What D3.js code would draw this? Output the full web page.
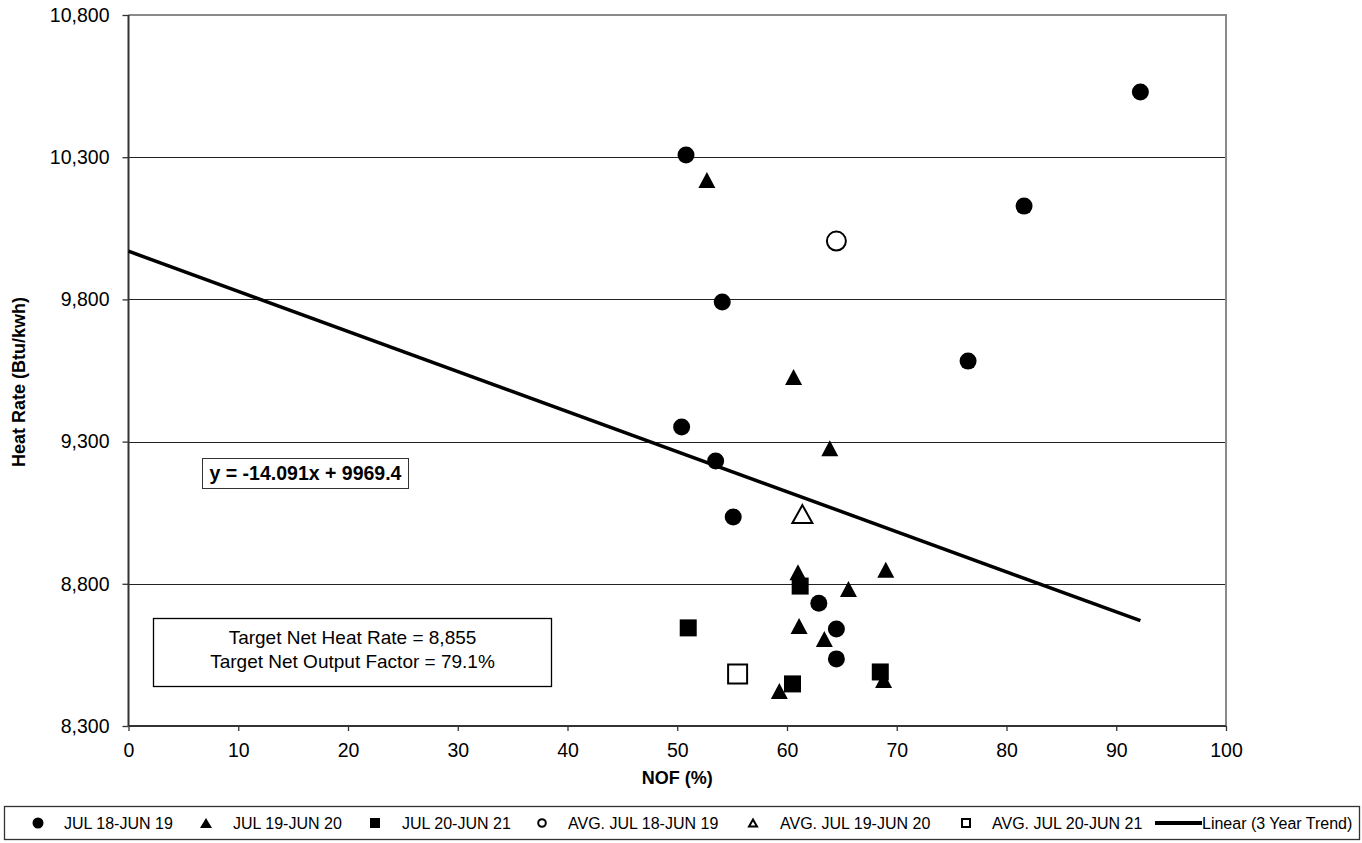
<!DOCTYPE html>
<html>
<head>
<meta charset="utf-8">
<script src="https://cdn.jsdelivr.net/npm/d3@7"></script>
<style>
body { margin:0; background:#fff; }
text { font-family: "Liberation Sans", Arial, sans-serif; fill:#000; }
</style>
</head>
<body>
<div id="chart"></div>
<script>
// chart size
var width = 1362;
var height = 843;
var plot = {left:128.5, right:1226, top:15, bottom:726};

// JUL 18-JUN 19 (circles)
var nof1 = [92.2, 50.8, 81.6, 54.1, 76.5, 50.4, 53.5, 55.1, 62.9, 64.5, 64.5];
var hr1  = [10529, 10308, 10128, 9791, 9583, 9351, 9232, 9035, 8732, 8641, 8536];
// JUL 19-JUN 20 (triangles)
var nof2 = [52.7, 60.6, 63.9, 61.0, 69.0, 65.6, 61.1, 63.4, 59.3, 68.8];
var hr2  = [10220, 9527, 9277, 8841, 8849, 8782, 8652, 8606, 8423, 8462];
// JUL 20-JUN 21 (squares)
var nof3 = [61.2, 51.0, 60.5, 68.5];
var hr3  = [8792, 8645, 8448, 8490];
// yearly averages (open markers)
var avgNof = [64.5, 61.4, 55.5];
var avgHr  = [10005, 9045, 8483];

// linear trend
var trendSlope = -14.091;
var trendIntercept = 9969.4;
var equationText = "y = -14.091x + 9969.4";
var targetLines = ["Target Net Heat Rate = 8,855", "Target Net Output Factor = 79.1%"];

var xTicks = [0, 10, 20, 30, 40, 50, 60, 70, 80, 90, 100];
var yTicks = [8300, 8800, 9300, 9800, 10300, 10800];
var legendLabels = ["JUL 18-JUN 19", "JUL 19-JUN 20", "JUL 20-JUN 21",
                    "AVG. JUL 18-JUN 19", "AVG. JUL 19-JUN 20", "AVG. JUL 20-JUN 21",
                    "Linear (3 Year Trend)"];

var svg = d3.select("#chart").append("svg")
    .attr("width", width)
    .attr("height", height);

var x = d3.scaleLinear().domain([0, 100]).range([plot.left, plot.right]);
var y = d3.scaleLinear().domain([8300, 10800]).range([plot.bottom, plot.top]);

// triangle / square paths centred on bounding box
function tri(w, h) {
  return "M0," + (-h/2) + "L" + (w/2) + "," + (h/2) + "L" + (-w/2) + "," + (h/2) + "Z";
}
function sq(s) {
  return "M" + (-s/2) + "," + (-s/2) + "h" + s + "v" + s + "h" + (-s) + "Z";
}

// grid lines
svg.append("g")
  .selectAll("line")
  .data(yTicks.slice(1, -1))
  .enter().append("line")
  .attr("x1", plot.left).attr("x2", plot.right)
  .attr("y1", function(d){ return Math.round(y(d)) + 0.5; })
  .attr("y2", function(d){ return Math.round(y(d)) + 0.5; })
  .style("stroke", "#222").style("stroke-width", 1);

// top and right frame
svg.append("path")
  .attr("d", "M" + plot.left + "," + plot.top + "H" + plot.right + "V" + plot.bottom)
  .style("fill", "none").style("stroke", "#8a8a8a").style("stroke-width", 2);

// axes
var yAxis = svg.append("g")
  .attr("transform", "translate(" + plot.left + ",0)")
  .call(d3.axisLeft(y).tickValues(yTicks).tickSize(6).tickPadding(13).tickFormat(d3.format(",")));
var xAxis = svg.append("g")
  .attr("transform", "translate(0," + plot.bottom + ")")
  .call(d3.axisBottom(x).tickValues(xTicks).tickSize(5).tickPadding(12));

[xAxis, yAxis].forEach(function(a) {
  a.select(".domain").style("stroke", "#333").style("stroke-width", 2);
  a.selectAll(".tick line").style("stroke", "#333").style("stroke-width", 1.3);
  a.selectAll("text").style("font-size", "19.5px").style("font-family", "Liberation Sans, Arial, sans-serif");
});
yAxis.select(".domain").attr("d", "M0," + plot.top + "V" + plot.bottom);
xAxis.select(".domain").attr("d", "M" + plot.left + ",0H" + plot.right);

// axis titles
svg.append("text")
  .attr("x", (plot.left + plot.right) / 2)
  .attr("y", 784)
  .attr("text-anchor", "middle")
  .style("font-size", "18px").style("font-weight", "bold")
  .text("NOF (%)");

svg.append("text")
  .attr("transform", "translate(25,382) rotate(-90)")
  .attr("text-anchor", "middle")
  .style("font-size", "18px").style("font-weight", "bold")
  .text("Heat Rate (Btu/kwh)");

// trend line
var allNof = nof1.concat(nof2, nof3);
var trendX = [0, d3.max(allNof)];
svg.append("path")
  .datum(trendX)
  .attr("d", d3.line()
      .x(function(d){ return x(d); })
      .y(function(d){ return y(trendSlope * d + trendIntercept); }))
  .style("fill", "none").style("stroke", "#000").style("stroke-width", 3.5);

// markers
var marks = svg.append("g");
marks.selectAll("circle.y1")
  .data(d3.zip(nof1, hr1))
  .enter().append("circle")
  .attr("cx", function(d){ return x(d[0]); })
  .attr("cy", function(d){ return y(d[1]); })
  .attr("r", 8.5)
  .style("fill", "#000");

marks.selectAll("path.y2")
  .data(d3.zip(nof2, hr2))
  .enter().append("path")
  .attr("transform", function(d){ return "translate(" + x(d[0]) + "," + y(d[1]) + ")"; })
  .attr("d", tri(17, 16))
  .style("fill", "#000");

marks.selectAll("path.y3")
  .data(d3.zip(nof3, hr3))
  .enter().append("path")
  .attr("transform", function(d){ return "translate(" + x(d[0]) + "," + y(d[1]) + ")"; })
  .attr("d", sq(17))
  .style("fill", "#000");

// averages
var avgShapes = [
  function(g){ g.append("circle").attr("r", 9.5); },
  function(g){ g.append("path").attr("d", tri(20, 18)); },
  function(g){ g.append("path").attr("d", sq(19)); }
];
avgNof.forEach(function(v, i) {
  var g = marks.append("g").attr("transform", "translate(" + x(v) + "," + y(avgHr[i]) + ")");
  avgShapes[i](g);
  g.selectAll("*").style("fill", "#fff").style("stroke", "#000").style("stroke-width", 2);
});

// equation label
svg.append("rect")
  .attr("x", 202.5).attr("y", 458.5).attr("width", 206).attr("height", 30)
  .style("fill", "#fff").style("stroke", "#333").style("stroke-width", 1);
svg.append("text")
  .attr("x", 305.5).attr("y", 480)
  .attr("text-anchor", "middle")
  .style("font-size", "19.5px").style("font-weight", "bold")
  .text(equationText);

// target box
svg.append("rect")
  .attr("x", 153.5).attr("y", 618.5).attr("width", 398).attr("height", 68)
  .style("fill", "#fff").style("stroke", "#000").style("stroke-width", 1.3);
svg.append("g").selectAll("text")
  .data(targetLines)
  .enter().append("text")
  .attr("x", 352.5)
  .attr("y", function(d, i){ return 644 + i * 24; })
  .attr("text-anchor", "middle")
  .style("font-size", "19px")
  .text(function(d){ return d; });

// legend
var legend = svg.append("g");
legend.append("rect")
  .attr("x", 4.5).attr("y", 806.5).attr("width", 1355).attr("height", 33)
  .style("fill", "#fff").style("stroke", "#333").style("stroke-width", 1.3);

var legendMarkX = [38, 206, 375, 542, 753, 966];
var legendTextX = [64, 233, 402, 568, 780, 992, 1202];
var legendShapes = [
  function(g){ g.append("circle").attr("r", 5.5).style("fill", "#000"); },
  function(g){ g.append("path").attr("d", tri(12, 10)).style("fill", "#000"); },
  function(g){ g.append("path").attr("d", sq(10)).style("fill", "#000"); },
  function(g){ g.append("circle").attr("r", 3.8).style("fill", "#fff").style("stroke", "#000").style("stroke-width", 2); },
  function(g){ g.append("path").attr("d", tri(8, 7)).style("fill", "#fff").style("stroke", "#000").style("stroke-width", 2); },
  function(g){ g.append("path").attr("d", sq(8)).style("fill", "#fff").style("stroke", "#000").style("stroke-width", 2); }
];
legendMarkX.forEach(function(px, i) {
  var g = legend.append("g").attr("transform", "translate(" + px + ",823)");
  legendShapes[i](g);
});
legend.append("line")
  .attr("x1", 1155).attr("x2", 1202).attr("y1", 823).attr("y2", 823)
  .style("stroke", "#000").style("stroke-width", 4);

legend.selectAll("text")
  .data(legendLabels)
  .enter().append("text")
  .attr("x", function(d, i){ return legendTextX[i]; })
  .attr("y", 829)
  .style("font-size", "16px")
  .text(function(d){ return d; });
</script>
</body>
</html>
